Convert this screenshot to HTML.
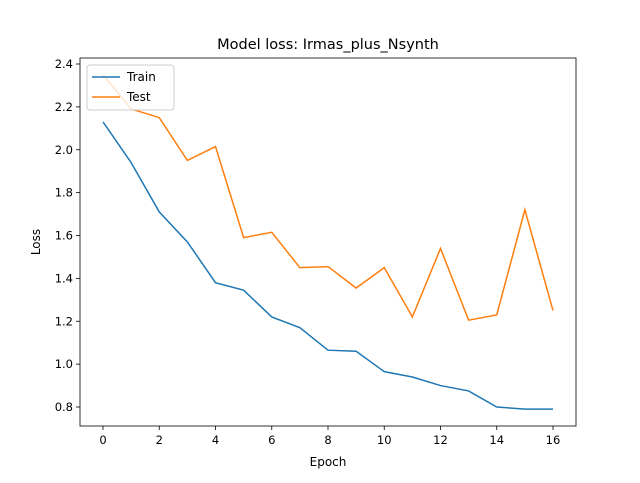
<!DOCTYPE html>
<html><head><meta charset="utf-8"><style>
body{margin:0;background:#fff}
svg{font-family:"DejaVu Sans","Liberation Sans",sans-serif}
</style></head><body>
<svg id="chart" width="640" height="478" xmlns="http://www.w3.org/2000/svg">
<rect width="640" height="478" fill="#fff"/>
<text x="328" y="49" font-size="14.5" text-anchor="middle">Model loss: Irmas_plus_Nsynth</text>
<g id="plot"></g>
</svg>
<script>
const epochs=[0,1,2,3,4,5,6,7,8,9,10,11,12,13,14,15,16];
const trainLoss=[2.13,1.94,1.71,1.57,1.38,1.345,1.22,1.17,1.065,1.06,0.965,0.94,0.90,0.875,0.80,0.79,0.79];
const testLoss=[2.35,2.19,2.15,1.95,2.015,1.59,1.615,1.45,1.455,1.355,1.45,1.22,1.54,1.205,1.23,1.72,1.25];
const xTicks=[0,2,4,6,8,10,12,14,16];
const yTicks=[0.8,1.0,1.2,1.4,1.6,1.8,2.0,2.2,2.4];
const L=80,R=576,T=58,B=426;
const xs=v=>103+v*(553-103)/16;
const ys=v=>407-(v-0.8)*(407-64)/1.6;
const g=document.getElementById('plot');
const NS='http://www.w3.org/2000/svg';
function mk(t,a){const e=document.createElementNS(NS,t);for(const k in a)e.setAttribute(k,a[k]);g.appendChild(e);return e;}
xTicks.forEach(v=>{
 const l=mk('line',{x1:xs(v),x2:xs(v),y1:B,y2:B+4,stroke:'#000','stroke-width':0.8});
 
 
 const t=mk('text',{x:xs(v),y:B+18,'font-size':11.5,'text-anchor':'middle'});t.textContent=v;
 
 
});
yTicks.forEach(v=>{
 const l=mk('line',{x1:L-4,x2:L,y1:ys(v),y2:ys(v),stroke:'#000','stroke-width':0.8});
 
 
 const t=mk('text',{x:L-7,y:ys(v)+4,'font-size':11.5,'text-anchor':'end'});t.textContent=v.toFixed(1);
 
 
});
function line(d,c,n){const p=mk('polyline',{points:d.map((v,i)=>xs(epochs[i])+','+ys(v)).join(' '),fill:'none',stroke:c,'stroke-width':1.5});
 
 }
line(trainLoss,'#1f77b4','train-line');
line(testLoss,'#ff7f0e','test-line');
const f=mk('rect',{x:L,y:T,width:R-L,height:B-T,fill:'none',stroke:'#000','stroke-width':0.8});


const xl=mk('text',{x:(L+R)/2,y:466,'font-size':12,'text-anchor':'middle'});xl.textContent='Epoch';


const yl=mk('text',{x:40,y:(T+B)/2,'font-size':12,'text-anchor':'middle',transform:`rotate(-90 40 ${(T+B)/2})`});yl.textContent='Loss';


const lg=mk('rect',{x:87,y:65,width:87,height:45,rx:3,fill:'#fff','fill-opacity':0.8,stroke:'#ccc'});


[['Train','#1f77b4',77],['Test','#ff7f0e',97]].forEach(([n,c,y])=>{
 const l=mk('line',{x1:92,x2:120,y1:y,y2:y,stroke:c,'stroke-width':1.5});
 
 
 const t=mk('text',{x:127,y:y+4,'font-size':12});t.textContent=n;
 
 
});
</script>
</body></html>
